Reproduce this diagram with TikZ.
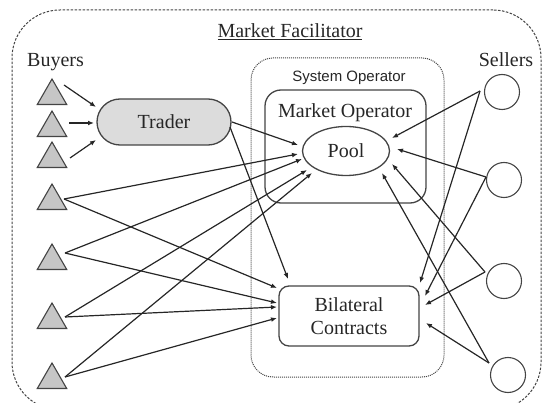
\documentclass[tikz,border=0pt]{standalone}
\usepackage{fontspec}
\setmainfont{Liberation Serif}
\newfontfamily\sosans{Liberation Sans}
\usetikzlibrary{shapes.geometric,arrows.meta,calc}
\definecolor{ink}{HTML}{262626}
\definecolor{edge}{HTML}{444444}
\definecolor{trifill}{HTML}{C6C6C6}
\definecolor{tradfill}{HTML}{DCDCDC}
\begin{document}
\begin{tikzpicture}[x=1pt,y=-1pt,
  conn/.style={draw=ink, line width=1.2pt, -{Latex[length=6pt,width=4.8pt]}},
  buyer/.style={regular polygon, regular polygon sides=3, minimum size=34pt, inner sep=0pt, fill=trifill, draw=edge, line width=1.1pt},
  seller/.style={circle, minimum size=35pt, inner sep=0pt, draw=edge, line width=1.1pt},
  lbl/.style={font=\fontsize{20}{23}\selectfont, inner sep=0pt, text=ink},
  boxstyle/.style={draw=edge, line width=1.3pt, inner sep=0pt, text=ink},
]
\useasboundingbox (0,0) rectangle (543,403);
% frames
\node[draw=edge, line width=1pt, dash pattern=on 2.5pt off 1.5pt, rounded corners=48pt,
      minimum width=529pt, minimum height=400pt, inner sep=0pt] (facil) at (276.5,210) {};
\node[draw=edge, line width=1pt, dash pattern=on 1pt off 1pt, rounded corners=22pt,
      minimum width=193pt, minimum height=319pt, inner sep=0pt] (sysop) at (347.5,217.5) {};
\node[boxstyle, rounded corners=16pt, minimum width=161pt, minimum height=113pt] (mktop) at (345.5,146.5) {};
% labels
\node[lbl, anchor=base] (title) at (290,38) {\underline{Market Facilitator}};
\node[lbl, anchor=base] (buyers) at (55.5,67) {Buyers};
\node[lbl, anchor=base] (sellers) at (506,67) {Sellers};
\node[font=\sosans\fontsize{15}{17}\selectfont, inner sep=0pt, anchor=base, text=ink] (sysoplbl) at (349,82) {System Operator};
\node[lbl, anchor=base] (mktoplbl) at (345,118) {Market Operator};
% main nodes
\node[boxstyle, ellipse, minimum width=87pt, minimum height=49pt, font=\fontsize{20}{23}\selectfont] (pool) at (346,151) {Pool};
\node[boxstyle, rounded corners=10pt, minimum width=140pt, minimum height=60pt, align=center, font=\fontsize{20}{23}\selectfont] (bil) at (349,316) {Bilateral\\Contracts};
\node[boxstyle, fill=tradfill, rounded corners=23pt, minimum width=134pt, minimum height=46pt, font=\fontsize{20}{23}\selectfont] (trader) at (164,122) {Trader};
% buyers
\node[buyer] (b1) at (52,96) {};
\node[buyer] (b2) at (52,128) {};
\node[buyer] (b3) at (52,159) {};
\node[buyer] (b4) at (52,201) {};
\node[buyer] (b5) at (52,261) {};
\node[buyer] (b6) at (52,320) {};
\node[buyer] (b7) at (52,380) {};
% sellers
\node[seller] (s1) at (502,92) {};
\node[seller] (s2) at (504,180) {};
\node[seller] (s3) at (504,281) {};
\node[seller] (s4) at (508,375) {};
% buyers -> trader
\draw[conn] ([xshift=12pt,yshift=11pt]b1.center) -- ([xshift=-68pt,yshift=15pt]trader.center);
\draw[conn] ([xshift=17pt,yshift=5pt]b2.center) -- ([xshift=-70pt,yshift=-1pt]trader.center);
\draw[conn] ([xshift=18pt,yshift=1pt]b3.center) -- ([xshift=-68pt,yshift=-18pt]trader.center);
% trader -> pool / bilateral
\draw[conn] ([xshift=68pt]trader.center) -- ([xshift=-48pt,yshift=6pt]pool.center);
\draw[conn] ([xshift=66pt,yshift=-5pt]trader.center) -- ([xshift=-61pt,yshift=37pt]bil.center);
% buyers -> pool
\draw[conn] ([xshift=12pt,yshift=2pt]b4.center) -- ([xshift=-48pt,yshift=-3pt]pool.center);
\draw[conn] ([xshift=13pt,yshift=8pt]b5.center) -- ([xshift=-44pt,yshift=-8pt]pool.center);
\draw[conn] ([xshift=13pt,yshift=3pt]b6.center) -- ([xshift=-39pt,yshift=-19pt]pool.center);
\draw[conn] ([xshift=13pt,yshift=3pt]b7.center) -- ([xshift=-34pt,yshift=-22pt]pool.center);
% buyers -> bilateral
\draw[conn] ([xshift=12pt,yshift=2pt]b4.center) -- ([xshift=-72pt,yshift=28pt]bil.center);
\draw[conn] ([xshift=13pt,yshift=8pt]b5.center) -- ([xshift=-72pt,yshift=13pt]bil.center);
\draw[conn] ([xshift=13pt,yshift=3pt]b6.center) -- ([xshift=-72pt,yshift=9pt]bil.center);
\draw[conn] ([xshift=13pt,yshift=3pt]b7.center) -- ([xshift=-72pt,yshift=-2pt]bil.center);
% sellers -> pool
\draw[conn] ([xshift=-22pt,yshift=1pt]s1.center) -- ([xshift=46pt,yshift=13pt]pool.center);
\draw[conn] ([xshift=-18pt,yshift=3pt]s2.center) -- ([xshift=51pt,yshift=2pt]pool.center);
\draw[conn] ([xshift=-19pt,yshift=9pt]s3.center) -- ([xshift=46pt,yshift=-13pt]pool.center);
\draw[conn] ([xshift=-19pt,yshift=12pt]s4.center) -- ([xshift=36pt,yshift=-22pt]pool.center);
% sellers -> bilateral
\draw[conn] ([xshift=-22pt,yshift=1pt]s1.center) -- ([xshift=71pt,yshift=33pt]bil.center);
\draw[conn] ([xshift=-18pt,yshift=3pt]s2.center) -- ([xshift=76pt,yshift=20pt]bil.center);
\draw[conn] ([xshift=-19pt,yshift=9pt]s3.center) -- ([xshift=76pt,yshift=11pt]bil.center);
\draw[conn] ([xshift=-19pt,yshift=12pt]s4.center) -- ([xshift=77pt,yshift=-7pt]bil.center);
\end{tikzpicture}
\end{document}
